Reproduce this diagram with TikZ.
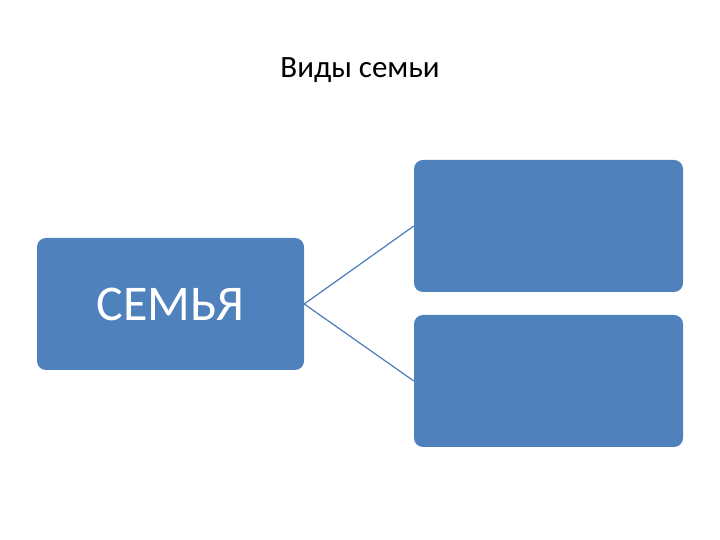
\documentclass[tikz,border=0pt]{standalone}
\usepackage{fontspec}
\setmainfont{Carlito}
\definecolor{boxblue}{HTML}{4F81BD}
\definecolor{lineblue}{HTML}{4A7EBB}
\begin{document}
\begin{tikzpicture}[x=1pt,y=1pt,
  bx/.style={draw=none,fill=boxblue,rounded corners=9pt,minimum width=267pt,minimum height=132pt,inner sep=0pt,text=white,font=\fontsize{50}{60}\selectfont},
  conn/.style={draw=lineblue,line width=1.2pt}]
\useasboundingbox[fill=white] (0,0) rectangle (720,540);
\node (title) at (360,470) {\fontsize{31}{37}\selectfont Виды семьи};
\node[bx] (L) at (170.5,236) {СЕМЬЯ};
\node[bx,minimum width=269pt] (T) at (548.5,314) {};
\node[bx,minimum width=269pt] (B) at (548.5,159) {};
\draw[conn] (L.east) -- (T.west);
\draw[conn] (L.east) -- (B.west);
\end{tikzpicture}
\end{document}
